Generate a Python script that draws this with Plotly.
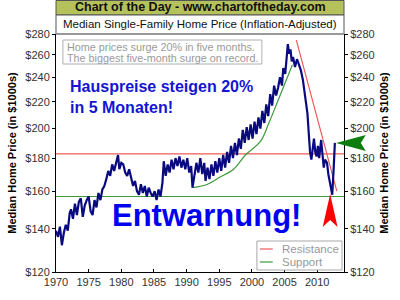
import plotly.graph_objects as go
import math

# ---------------- data ----------------
years = [1970.0, 1970.3, 1970.6, 1970.9, 1971.2, 1971.5, 1971.8, 1972.1, 1972.3, 1972.6,
         1972.9, 1973.2, 1973.5, 1973.8, 1974.1, 1974.4, 1974.7, 1975.0, 1975.3, 1975.6,
         1975.9, 1976.2, 1976.5, 1976.8, 1977.1, 1977.4, 1977.7, 1978.0, 1978.3, 1978.6,
         1978.9, 1979.2, 1979.5, 1979.7, 1980.0, 1980.3, 1980.6, 1980.9, 1981.2, 1981.5,
         1981.8, 1982.1, 1982.4, 1982.7, 1983.0, 1983.3, 1983.6, 1983.9, 1984.2, 1984.5,
         1984.8, 1985.1, 1985.4, 1985.7, 1986.0, 1986.3, 1986.5, 1986.8, 1987.1, 1987.4,
         1987.7, 1988.0, 1988.3, 1988.6, 1988.9, 1989.2, 1989.5, 1989.8, 1990.1, 1990.4,
         1990.7, 1990.9, 1991.2, 1991.5, 1991.8, 1992.1, 1992.4, 1992.7, 1992.9, 1993.2,
         1993.5, 1993.8, 1994.1, 1994.4, 1994.7, 1995.0, 1995.3, 1995.6, 1995.9, 1996.2,
         1996.5, 1996.8, 1997.1, 1997.4, 1997.7, 1998.0, 1998.3, 1998.6, 1998.9, 1999.2,
         1999.5, 1999.8, 2000.1, 2000.4, 2000.7, 2001.0, 2001.3, 2001.6, 2001.9, 2002.2,
         2002.5, 2002.8, 2003.1, 2003.4, 2003.7, 2004.0, 2004.3, 2004.6, 2004.8, 2005.1,
         2005.3, 2005.5, 2005.7, 2005.9, 2006.1, 2006.3, 2006.6, 2006.9, 2007.2, 2007.5,
         2007.8, 2008.0, 2008.3, 2008.5, 2008.7, 2008.9, 2009.1, 2009.3, 2009.5, 2009.7,
         2009.9, 2010.1, 2010.3, 2010.6, 2010.8, 2011.0, 2011.2, 2011.5, 2011.7, 2011.9,
         2012.1, 2012.3, 2012.5, 2012.7]
prices = [139, 136, 141, 132, 138, 142, 139, 148, 150, 145,
          153, 147, 154, 156, 146, 152, 155, 157, 149, 147,
          155, 151, 159, 155, 161, 163, 167, 172, 169, 176,
          172, 178, 182, 173, 177, 176, 171, 169, 173, 168,
          163, 166, 160, 158, 164, 159, 163, 157, 162, 159,
          157, 160, 155, 161, 157, 165, 178, 169, 176, 171,
          179, 173, 180, 175, 181, 174, 179, 173, 180, 171,
          175, 162, 169, 177, 171, 180, 170, 177, 166, 174,
          167, 176, 169, 178, 171, 180, 172, 182, 174, 184,
          177, 188, 180, 190, 182, 193, 186, 199, 190, 201,
          192, 203, 193, 205, 196, 208, 200, 213, 204, 218,
          209, 226, 217, 233, 225, 231, 240, 233, 248, 243,
          256, 270, 261, 265, 254, 258, 249, 256, 251, 246,
          238, 231, 220, 211, 197, 184, 179, 187, 193, 184,
          181, 188, 180, 192, 183, 174, 179, 177, 170, 166,
          162, 158, 172, 190]

resistance_level = 182.7
support_level = 157
resistance_trend_x = [2006.8, 2013.0]
resistance_trend_y = [274, 160]
support_curve_x = [1990.9, 1993.2, 1995.0, 1997.2, 1999.0, 2001.3, 2002.6, 2004.0, 2006.2]
support_curve_y = [162, 164, 168, 173, 182, 191, 204, 221, 251]

x_range = [1970, 2014.1]
y_min, y_max = 120, 280
y_ticks = [120, 140, 160, 180, 200, 220, 240, 260, 280]
y_ticktext = ["$%d" % v for v in y_ticks]
x_ticks = [1970, 1975, 1980, 1985, 1990, 1995, 2000, 2005, 2010]
legend_names = ["Resistance", "Support"]
legend_colors = ["#ec5a5a", "#3c9a3c"]

FONT = "Liberation Sans, Arial, sans-serif"
W, H = 400, 300
ML, MR, MT, MB = 54, 55, 34, 28
PW, PH = W - ML - MR, H - MT - MB

def px(x):
    return (x - ML) / PW

def py(y):
    return (H - MB - y) / PH

fig = go.Figure()

fig.add_trace(go.Scatter(
    x=[x_range[0], x_range[1], None] + resistance_trend_x,
    y=[resistance_level, resistance_level, None] + resistance_trend_y,
    mode="lines", name=legend_names[0], line=dict(color=legend_colors[0], width=1.2),
    hoverinfo="skip"))
fig.add_trace(go.Scatter(
    x=[x_range[0], x_range[1], None] + support_curve_x,
    y=[support_level, support_level, None] + support_curve_y,
    mode="lines", name=legend_names[1], line=dict(color=legend_colors[1], width=1.2, shape="spline"),
    hoverinfo="skip"))
fig.add_trace(go.Scatter(
    x=years, y=prices, mode="lines", name="Median Home Price",
    line=dict(color="#0a0a80", width=2.2)))
# right axis carrier
fig.add_trace(go.Scatter(x=[years[0]], y=[prices[0]], yaxis="y2", mode="lines",
                         showlegend=False, hoverinfo="skip", opacity=0))

tickfont = dict(family=FONT, size=11, color="#333333")
titlefont = dict(family=FONT, size=11, color="#000000", weight="bold")
yax = dict(type="log", range=[math.log10(y_min), math.log10(y_max)],
           tickvals=y_ticks, ticktext=y_ticktext, tickfont=tickfont,
           showgrid=False, zeroline=False, showline=True, linecolor="#000000",
           linewidth=1, ticks="outside", ticklen=3, tickcolor="#000000",
           title=dict(text="Median Home Price (in $1000s)", font=titlefont, standoff=6))

fig.update_layout(
    width=W, height=H,
    margin=dict(l=ML, r=MR, t=MT, b=MB),
    paper_bgcolor="white", plot_bgcolor="white",
    font=dict(family=FONT),
    xaxis=dict(range=x_range, tickvals=x_ticks, tickfont=tickfont, showgrid=False,
               zeroline=False, showline=True, linecolor="#000000", linewidth=1,
               ticks="inside", ticklen=3, tickcolor="#000000"),
    yaxis=yax,
    yaxis2=dict(yax, overlaying="y", side="right"),
    showlegend=False,
)

shapes = [
    # title bar
    dict(type="rect", xref="paper", yref="paper", x0=px(54), x1=px(345), y0=py(15), y1=py(0.5),
         fillcolor="#b5c25b", line=dict(color="#555555", width=1), layer="above"),
    # subtitle box
    dict(type="rect", xref="paper", yref="paper", x0=px(54), x1=px(345), y0=py(34), y1=py(15),
         fillcolor="white", line=dict(color="#555555", width=1), layer="above"),
    # plot frame top border
    dict(type="line", xref="paper", yref="paper", x0=0, x1=1, y0=1, y1=1,
         line=dict(color="#999999", width=2)),
    # note box
    dict(type="rect", xref="paper", yref="paper", x0=px(61), x1=px(262), y0=py(64), y1=py(40),
         fillcolor="white", line=dict(color="#b0b0b0", width=1)),
    # legend box
    dict(type="rect", xref="paper", yref="paper", x0=px(257), x1=px(343), y0=py(270), y1=py(241),
         fillcolor="white", line=dict(color="#a8a8a8", width=1), layer="above"),
]
for i, (nm, col) in enumerate(zip(legend_names, legend_colors)):
    yy = 249 + i * 13
    shapes.append(dict(type="line", xref="paper", yref="paper", x0=px(260), x1=px(273),
                       y0=py(yy), y1=py(yy), line=dict(color=col, width=1.2), layer="above"))

def path(points):
    return "M " + " L ".join("%f,%f" % (px(a), py(b)) for a, b in points) + " Z"

shapes.append(dict(type="path", xref="paper", yref="paper",
                   path=path([(331, 194), (338.5, 227), (331, 220), (323.5, 227)]),
                   fillcolor="#ff0000", line=dict(width=0)))
shapes.append(dict(type="path", xref="paper", yref="paper",
                   path=path([(337, 143), (367, 135), (362, 143), (367, 151)]),
                   fillcolor="#0d7d0d", line=dict(width=0)))
fig.update_layout(shapes=shapes)

note_font = dict(family=FONT, size=10.8, color="#9a9a9a")
annotations = [
    dict(text="<b>Chart of the Day - www.chartoftheday.com</b>", xref="paper", yref="paper",
         x=0.5, y=py(7.5), xanchor="center", yanchor="middle", showarrow=False,
         font=dict(family=FONT, size=12.5, color="#111111")),
    dict(text="Median Single-Family Home Price (Inflation-Adjusted)", xref="paper", yref="paper",
         x=0.5, y=py(24.5), xanchor="center", yanchor="middle", showarrow=False,
         font=dict(family=FONT, size=11.5, color="#111111")),
    dict(text="Home prices surge 20% in five months.", xref="paper", yref="paper",
         x=px(63), y=py(46.5), xanchor="left", yanchor="middle", showarrow=False, font=note_font),
    dict(text="The biggest five-month surge on record.", xref="paper", yref="paper",
         x=px(63), y=py(58), xanchor="left", yanchor="middle", showarrow=False, font=note_font),
    dict(text="<b>Hauspreise steigen 20%<br>in 5 Monaten!</b>", xref="paper", yref="paper",
         x=px(66), y=py(76), xanchor="left", yanchor="top", showarrow=False, align="left",
         font=dict(family=FONT, size=16, color="#1414d2")),
    dict(text="<b>Entwarnung!</b>", xref="paper", yref="paper",
         x=px(206), y=py(215), xanchor="center", yanchor="middle", showarrow=False,
         font=dict(family=FONT, size=31, color="#0000f0")),
]
for i, nm in enumerate(legend_names):
    annotations.append(dict(text=nm, xref="paper", yref="paper", x=px(280), y=py(249 + i * 13),
                            xanchor="left", yanchor="middle", showarrow=False,
                            font=dict(family=FONT, size=11.5, color="#999999")))
fig.update_layout(annotations=annotations)

fig.write_html("out.html")
